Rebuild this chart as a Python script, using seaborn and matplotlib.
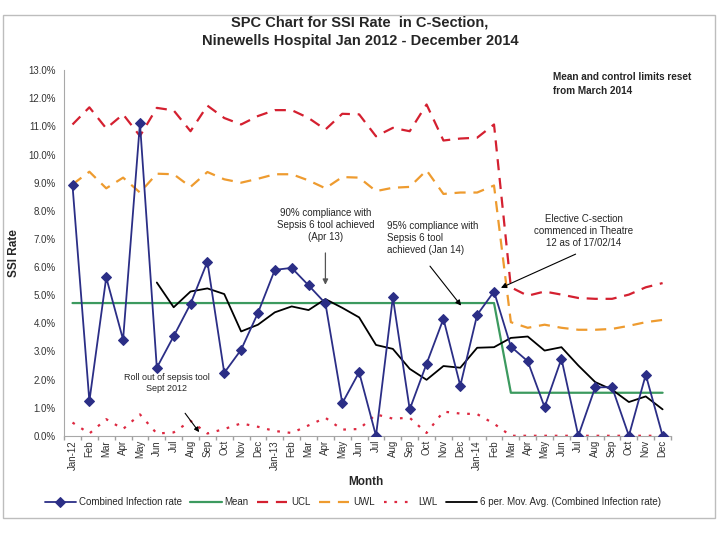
import numpy as np
import pandas as pd
import matplotlib
matplotlib.use('Agg')
import matplotlib.pyplot as plt
from matplotlib.patches import Rectangle
import seaborn as sns

# Month labels Jan 2012 - Dec 2014
months = ['Jan-12', 'Feb', 'Mar', 'Apr', 'May', 'Jun', 'Jul', 'Aug', 'Sep', 'Oct', 'Nov', 'Dec',
          'Jan-13', 'Feb', 'Mar', 'Apr', 'May', 'Jun', 'Jul', 'Aug', 'Sep', 'Oct', 'Nov', 'Dec',
          'Jan-14', 'Feb', 'Mar', 'Apr', 'May', 'Jun', 'Jul', 'Aug', 'Sep', 'Oct', 'Nov', 'Dec']

# values in %
combined = [8.9, 1.23, 5.63, 3.42, 11.12, 2.42, 3.54, 4.69, 6.19, 2.24, 3.06, 4.37,
            5.9, 5.97, 5.35, 4.71, 1.16, 2.26, 0.0, 4.92, 0.94, 2.56, 4.16, 1.78,
            4.3, 5.13, 3.17, 2.65, 1.02, 2.74, 0.0, 1.72, 1.73, 0.0, 2.17, 0.0]

mean = [4.72, 4.72, 4.72, 4.72, 4.72, 4.72, 4.72, 4.72, 4.72, 4.72, 4.72, 4.72,
        4.72, 4.72, 4.72, 4.72, 4.72, 4.72, 4.72, 4.72, 4.72, 4.72, 4.72, 4.72,
        4.72, 4.72, 1.53, 1.53, 1.53, 1.53, 1.53, 1.53, 1.53, 1.53, 1.53, 1.53]

ucl = [11.07, 11.68, 10.93, 11.43, 10.66, 11.66, 11.57, 10.83, 11.74, 11.3, 11.07, 11.37,
       11.58, 11.58, 11.3, 10.89, 11.45, 11.43, 10.65, 10.95, 10.83, 11.78, 10.5, 10.57,
       10.6, 11.07, 5.28, 4.98, 5.13, 5.02, 4.9, 4.87, 4.87, 5.02, 5.28, 5.43]

uwl = [8.94, 9.39, 8.8, 9.18, 8.65, 9.32, 9.3, 8.85, 9.38, 9.12, 9.0, 9.14,
       9.3, 9.3, 9.08, 8.8, 9.2, 9.18, 8.7, 8.82, 8.85, 9.44, 8.6, 8.65,
       8.65, 8.9, 4.04, 3.84, 3.95, 3.84, 3.77, 3.77, 3.8, 3.91, 4.04, 4.12]

lwl = [0.47, 0.08, 0.59, 0.24, 0.76, 0.08, 0.12, 0.53, 0.08, 0.24, 0.44, 0.32,
       0.17, 0.1, 0.37, 0.64, 0.22, 0.24, 0.76, 0.61, 0.64, 0.1, 0.86, 0.79,
       0.77, 0.43, 0.0, 0.0, 0.0, 0.0, 0.0, 0.0, 0.0, 0.0, 0.0, 0.0]

mov_avg = [np.nan, np.nan, np.nan, np.nan, np.nan, 5.45, 4.57, 5.13, 5.24, 5.04, 3.71, 3.95,
           4.39, 4.6, 4.47, 4.86, 4.55, 4.21, 3.23, 3.09, 2.38, 1.99, 2.48, 2.42,
           3.13, 3.15, 3.48, 3.53, 3.03, 3.15, 2.5, 1.91, 1.64, 1.2, 1.4, 0.94]

df = pd.DataFrame({'idx': range(len(months)), 'combined': combined, 'mean': mean,
                   'ucl': ucl, 'uwl': uwl, 'lwl': lwl, 'mov': mov_avg})

sns.set_theme(style='white')
plt.rcParams['font.family'] = ['Liberation Sans Narrow', 'Liberation Sans', 'DejaVu Sans']

fig = plt.figure(figsize=(7.2, 5.4), dpi=100)
ax = fig.add_axes([0.089, 0.193, 0.843, 0.677])

navy = '#2B2E86'
sns.lineplot(data=df, x='idx', y='combined', ax=ax, color=navy, lw=1.3, marker='D',
             markersize=5.5, markeredgecolor=navy, label='Combined Infection rate', zorder=6)
sns.lineplot(data=df, x='idx', y='mean', ax=ax, color='#3C9A5F', lw=1.6, label='Mean', zorder=3)
sns.lineplot(data=df, x='idx', y='ucl', ax=ax, color='#D42030', lw=1.6,
             linestyle=(0, (5, 3.5)), label='UCL', zorder=2)
sns.lineplot(data=df, x='idx', y='uwl', ax=ax, color='#EE9B2F', lw=1.6,
             linestyle=(0, (5, 3.5)), label='UWL', zorder=2)
sns.lineplot(data=df, x='idx', y='lwl', ax=ax, color='#DD2840', lw=1.6,
             linestyle=(0, (1.2, 3.5)), label='LWL', zorder=2)
sns.lineplot(data=df, x='idx', y='mov', ax=ax, color='black', lw=1.3,
             label='6 per. Mov. Avg. (Combined Infection rate)', zorder=5)

ax.set_xlim(-0.5, 35.5)
ax.set_ylim(0, 13)
ax.set_yticks(np.arange(0, 14, 1))
ax.set_yticklabels(['%.1f%%' % v for v in range(14)], fontsize=7, color='#333333')
ax.set_xticks(range(len(months)))
ax.set_xticklabels(months, rotation=90, fontsize=7, color='#333333')
ax.set_xticks(np.arange(-0.5, 36, 1), minor=True)
ax.tick_params(axis='x', which='major', length=0, pad=3)
ax.tick_params(axis='x', which='minor', length=3, color='#A0A0A0', direction='out', bottom=True)
ax.tick_params(axis='y', length=0, pad=6)
ax.set_xlabel('')
ax.set_ylabel('')
for s in ['top', 'right']:
    ax.spines[s].set_visible(False)
for s in ['left', 'bottom']:
    ax.spines[s].set_color('#A8A8A8')
    ax.spines[s].set_linewidth(0.8)

# annotations
afs = 7
ax.text(15.03, 7.5, '90% compliance with\nSepsis 6 tool achieved\n(Apr 13)', ha='center',
        va='center', fontsize=afs, linespacing=1.25)
ax.annotate('', xy=(15.0, 5.27), xytext=(15.0, 6.6),
            arrowprops=dict(arrowstyle='-|>', color='#555555', lw=0.9, mutation_scale=8))

ax.text(18.64, 7.02, '95% compliance with\nSepsis 6 tool\nachieved (Jan 14)', ha='left',
        va='center', fontsize=afs, linespacing=1.25)
ax.annotate('', xy=(23.15, 4.55), xytext=(21.1, 6.11),
            arrowprops=dict(arrowstyle='-|>', color='black', lw=0.8, mutation_scale=8))

ax.text(30.34, 7.29, 'Elective C-section\ncommenced in Theatre\n12 as of 17/02/14', ha='center',
        va='center', fontsize=afs, linespacing=1.25)
ax.annotate('', xy=(25.26, 5.22), xytext=(29.99, 6.5),
            arrowprops=dict(arrowstyle='-|>', color='black', lw=0.8, mutation_scale=8))

ax.text(5.59, 1.88, 'Roll out of sepsis tool\nSept 2012', ha='center', va='center',
        fontsize=6.5, linespacing=1.2)
ax.annotate('', xy=(7.61, 0.05), xytext=(6.58, 0.88),
            arrowprops=dict(arrowstyle='-|>', color='black', lw=0.8, mutation_scale=7))

fig.text(553 / 720, 1 - 84 / 540, 'Mean and control limits reset\nfrom March 2014', ha='left',
         va='center', fontsize=7.2, fontweight='bold', linespacing=1.4)

fig.text(0.5, 1 - 32 / 540, 'SPC Chart for SSI Rate  in C-Section,\nNinewells Hospital Jan 2012 - December 2014',
         ha='center', va='center', fontsize=10.5, fontweight='bold', linespacing=1.4)
fig.text(14 / 720, 1 - 253 / 540, 'SSI Rate', rotation=90, ha='center', va='center',
         fontsize=8.5, fontweight='bold')
fig.text(366 / 720, 1 - 482 / 540, 'Month', ha='center', va='center', fontsize=8.5,
         fontweight='bold')

ax.legend(loc='center', bbox_to_anchor=(0.49, 1 - 502 / 540), bbox_transform=fig.transFigure,
          ncol=6, frameon=False, fontsize=7, handlelength=3.2, columnspacing=0.9,
          handletextpad=0.3)

fig.patches.append(Rectangle((3 / 720, 1 - 518 / 540), 712 / 720, 503 / 540,
                             transform=fig.transFigure, fill=False, ec='#BDBDBD', lw=1.0))

fig.savefig('out.png', dpi=100)
